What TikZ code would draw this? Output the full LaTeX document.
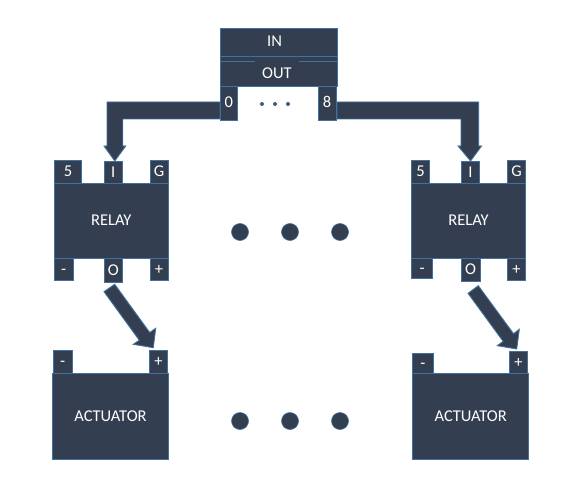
\documentclass[tikz,border=0pt]{standalone}
\usepackage{fontspec}
\setmainfont{Carlito}
\definecolor{dark}{HTML}{333F50}
\definecolor{edge}{HTML}{41719C}
\tikzset{
  label text/.style={text=white,text height=10pt,text depth=0pt,font=\fontsize{16.5}{18}\selectfont},
  box/.style={label text,draw=edge,fill=dark,line width=0.9pt,inner sep=0pt,outer sep=0pt,anchor=north west},
  patch/.style={label text,fill=dark,inner sep=0pt,outer sep=0pt},
  blockarrow/.style={draw=edge,fill=dark,line width=0.9pt,line join=miter},
  bigdot/.style={draw=edge,fill=dark,line width=0.6pt,circle,minimum size=17pt,inner sep=0pt},
  smalldot/.style={fill=edge!60!dark,circle,minimum size=4pt,inner sep=0pt}
}
\begin{document}
\begin{tikzpicture}[x=1pt,y=-1pt]
\useasboundingbox (0,0) rectangle (569,481);
% controller
\node[box,minimum width=117pt,minimum height=58pt] (ctrl) at (220,28) {};
\draw[edge,line width=0.9pt] (220,56) -- (337,56) (220,61) -- (337,61);
\node[patch,minimum width=55pt,minimum height=26pt] (inlabel) at (274.5,42) {IN};
\node[patch,minimum width=44pt,minimum height=25.5pt] (outlabel) at (277,73.5) {OUT};
\node[box,minimum width=17.5pt,minimum height=34pt] (p0) at (220,86) {0};
\node[box,minimum width=18pt,minimum height=34pt] (p8) at (318,86) {8};
\node[smalldot] (d1) at (262,104) {};
\node[smalldot] (d2) at (275,104) {};
\node[smalldot] (d3) at (288,104) {};
% left relay
\node[box,minimum width=113.5pt,minimum height=75pt] (r1) at (54.5,183) {RELAY};
\node[box,minimum width=27pt,minimum height=22.5pt] (r1v) at (54.5,160.5) {5};
\node[box,minimum width=18.5pt,minimum height=22pt] (r1i) at (104,161) {I};
\node[box,minimum width=18pt,minimum height=22.5pt] (r1g) at (150,160.5) {G};
\node[box,minimum width=18.5pt,minimum height=22.5pt] (r1m) at (54.5,258) {-};
\node[box,minimum width=18.5pt,minimum height=24pt] (r1o) at (104,258) {O};
\node[box,minimum width=18pt,minimum height=22.5pt] (r1p) at (150,258) {+};
% right relay
\node[box,minimum width=114.5pt,minimum height=75pt] (r2) at (411.3,183) {RELAY};
\node[box,minimum width=18.5pt,minimum height=22.5pt] (r2v) at (411.3,160.5) {5};
\node[box,minimum width=18.5pt,minimum height=22pt] (r2i) at (461.3,161) {I};
\node[box,minimum width=18.5pt,minimum height=22.5pt] (r2g) at (507.3,160.5) {G};
\node[box,minimum width=21.5pt,minimum height=20.7pt] (r2m) at (411.3,258) {-};
\node[box,minimum width=18.7pt,minimum height=23.7pt] (r2o) at (461.3,258) {O};
\node[box,minimum width=18.5pt,minimum height=22.3pt] (r2p) at (507.3,258) {+};
% left actuator
\node[box,minimum width=116pt,minimum height=86pt] (a1) at (52.5,373.3) {ACTUATOR};
\node[box,minimum width=18.7pt,minimum height=23.3pt] (a1m) at (53.3,350) {-};
\node[box,minimum width=18.5pt,minimum height=23.3pt] (a1p) at (149.3,350) {+};
% right actuator
\node[box,minimum width=116pt,minimum height=86pt] (a2) at (412.7,373.3) {ACTUATOR};
\node[box,minimum width=21.4pt,minimum height=20pt] (a2m) at (412.3,353.3) {-};
\node[box,minimum width=18.4pt,minimum height=22pt] (a2p) at (509.3,351.3) {+};
% big dots
\foreach \n/\x/\y in {a/240/232,b/290/232,c/340/232,e/240/421,f/290/421,g/340/421}
  \node[bigdot] (dot\n) at (\x,\y) {};
% elbow arrows
\coordinate (t1) at ([xshift=1.5pt]r1i.north);
\draw[blockarrow] (t1) -- ++(11,-15) -- ++(-3,0) -- ++(0,-27) -- (p0.west |- 0,119)
  -- (p0.west |- 0,102) -- (107,102) -- (107,146) -- (104,146) -- cycle;
\coordinate (t2) at (r2i.north);
\draw[blockarrow] (t2) -- ++(11,-15) -- ++(-3,0) -- ++(0,-44) -- (337,102) -- (337,119)
  -- (461,119) -- (461,146) -- (458,146) -- cycle;
% diagonal arrows
\coordinate (t3) at ([xshift=-5.25pt,yshift=2.3pt]a1p.north);
\draw[blockarrow] (t3) -- ++(-20,-3.4) -- ++(6,-4.1) -- ++(-35.3,-48.5) -- ++(10.7,-7.4)
  -- ++(35,48.2) -- ++(6,-4.2) -- cycle;
\coordinate (t4) at ([xshift=-1.8pt,yshift=2.3pt]a2p.north);
\draw[blockarrow] (t4) -- ++(-19.4,-3.3) -- ++(5.8,-4.4) -- ++(-35.1,-48) -- ++(10.3,-7.6)
  -- ++(35.2,48) -- ++(5.8,-4.4) -- cycle;
\end{tikzpicture}
\end{document}
